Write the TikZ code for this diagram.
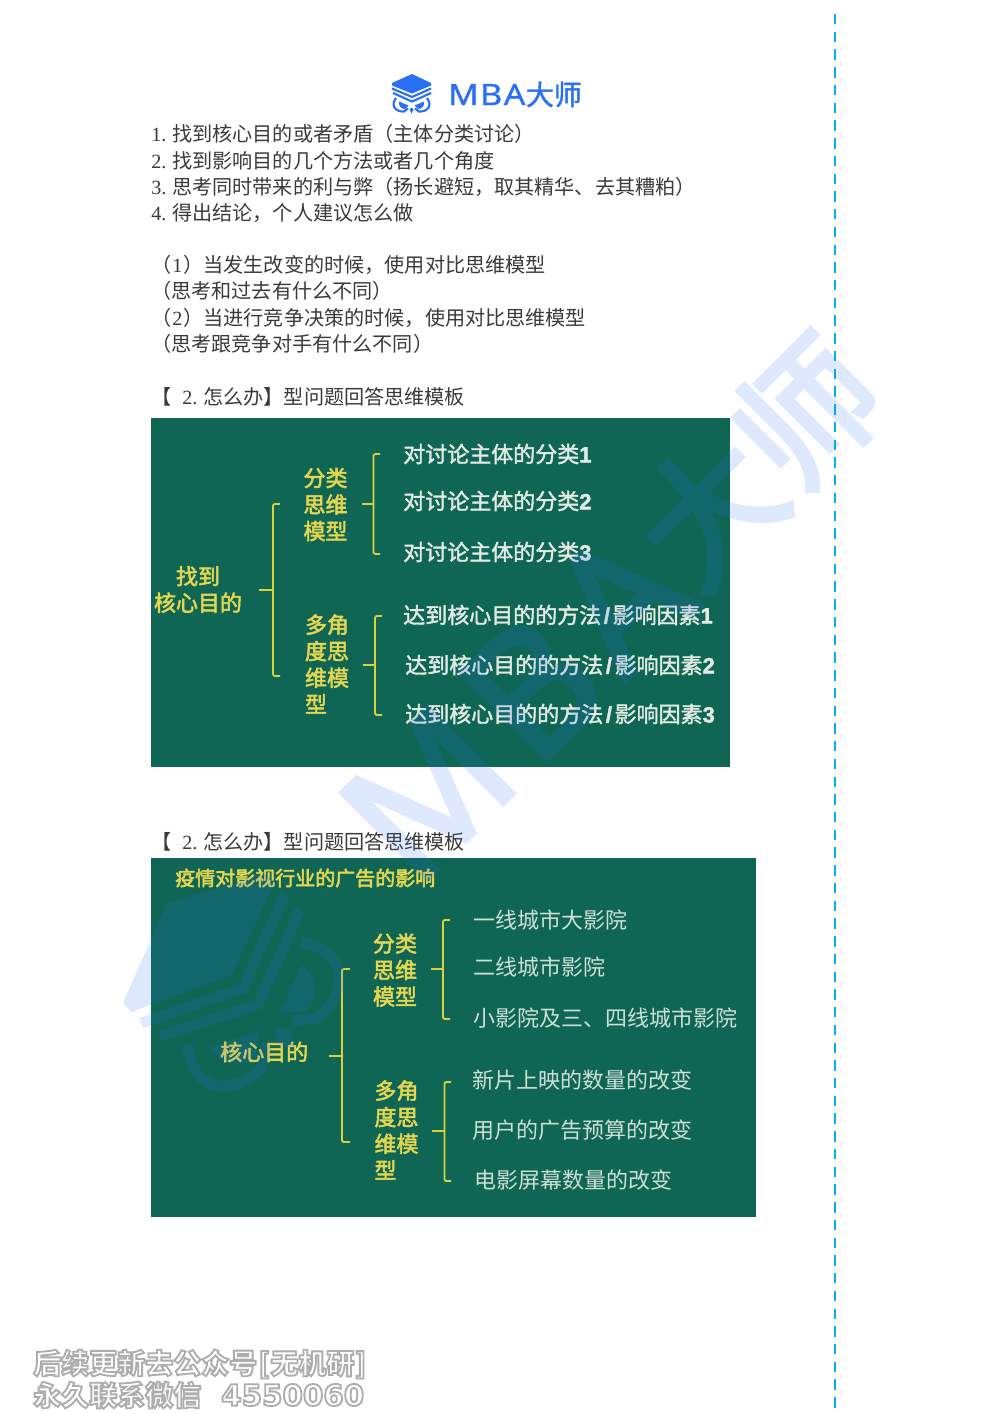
\documentclass[tikz,border=0pt]{standalone}
\usepackage{fontspec}
\usepackage{graphicx}
\setmainfont{Liberation Serif}
\newfontfamily\cjk{Noto Sans CJK SC}
\newfontfamily\latf{Liberation Serif}
\newfontfamily\lsans{Liberation Sans}
\newfontfamily\opsf{Open Sans}
\newfontfamily\dejab{DejaVu Sans Bold}
\definecolor{boardgreen}{RGB}{15,102,85}
\definecolor{brandblue}{RGB}{41,112,245}
\definecolor{dashblue}{RGB}{0,178,240}
\definecolor{chalkyellow}{RGB}{228,214,80}
\definecolor{brackyellow}{RGB}{216,210,60}
\definecolor{chalkwhite}{RGB}{226,234,226}
\definecolor{chalksoft}{RGB}{205,224,212}
\definecolor{bodyink}{RGB}{58,58,58}
\newcommand\lab[1]{\makebox[15.75pt][l]{\latf #1}}
\newcommand\pnum[1]{\makebox[9pt]{\latf #1}}
\newcommand\ld[1]{{\lsans\bfseries #1}}
\newcommand\slashbox{\makebox[8.5pt]{\lsans\bfseries /}}
\tikzset{
  txt/.style={anchor=west,inner sep=0pt,font=\fontsize{#1pt}{#1pt}\selectfont\cjk,text height=#1*.88pt,text depth=#1*.12pt},
  heavy/.style={execute at begin node={\special{pdf:code 2 Tr #1 w}},execute at end node={\special{pdf:code 0 Tr}}},
  body/.style={txt=15.1,text=bodyink},
  itemb/.style={txt=16.5,text=chalkwhite,heavy=0.3},
  items/.style={txt=16.5,text=chalksoft},
  heady/.style={txt=16.5,text=chalkyellow,heavy=0.4},
  stack/.style={inner sep=0pt,align=left,text=chalkyellow,font=\fontsize{16.5pt}{19.9pt}\selectfont\cjk,heavy=0.4},
  brk/.style={draw=brackyellow,line width=1.4pt},
  board/.style={fill=boardgreen,draw=none},
  foot/.style={anchor=west,inner sep=0pt,font=\fontsize{21pt}{21pt}\selectfont\cjk\bfseries,text height=18.5pt,text depth=2.5pt},
}
% bracket: prefix, stem x, vertical x, tip x, top y, mid y, bottom y
\newcommand\bracketat[7]{%
  \coordinate (#1s) at (#2,#6);
  \coordinate (#1m) at (#3,#6);
  \coordinate (#1t) at (#4,#5);
  \coordinate (#1b) at (#4,#7);
  \draw[brk] (#1s) -- (#1m);
  \draw[brk,rounded corners=1.5pt] (#1t) -| (#1m) |- (#1b);
}
% emblem, in page pixel coordinates of the header
\newcommand\mbaemblem{%
    \fill[brandblue] (412,74) -- (431,83) -- (431,85.5) -- (412,93.5) -- (392,85.5) -- (392,83) -- cycle;
    \draw[brandblue,line width=1.6pt] (392,88.5) -- (412,97) -- (431,88.5);
    \draw[brandblue,line width=1.6pt] (393,93) -- (412,101.5) -- (431,93);
    \draw[brandblue,line width=1.6pt] (396,98) .. controls (390,106) and (396,112) .. (404,111.5) -- (408,108.5);
    \draw[brandblue,line width=1.6pt] (427,98) .. controls (433,106) and (427,112) .. (419,111.5) -- (415,108.5);
    \fill[brandblue] (399,101.5) -- (408.5,105.5) -- (405,109) .. controls (401,109) and (398.5,106) .. cycle;
    \fill[brandblue] (424,101.5) -- (414.5,105.5) -- (418,109) .. controls (422,109) and (424.5,106) .. cycle;
    \fill[brandblue] (409.5,109.5) -- (411.5,107.5) -- (413.5,109.5) -- (411.5,113.5) -- cycle;
}
\begin{document}
\begin{tikzpicture}[x=.75pt,y=-.75pt]
\useasboundingbox (0,0) rectangle (1000,1414);
\fill[white] (0,0) rectangle (1000,1414);

% header logo
\mbaemblem
\node[anchor=base west,inner sep=0pt,text=brandblue,heavy=0.3] (topword) at (448,105)
  {\fontsize{22pt}{22pt}\selectfont\opsf\scalebox{1.15}[1]{M}\hspace{1.25pt}\scalebox{1.15}[1]{B}\hspace{1.25pt}\scalebox{1.15}[1]{A}\hspace{.5pt}\fontsize{21pt}{21pt}\selectfont\cjk 大师};

% body lines
\node[body] (l1) at (151,134) {\lab{1.}找到核心目的或者矛盾（主体分类讨论）};
\node[body] (l2) at (151,160.5) {\lab{2.}找到影响目的几个方法或者几个角度};
\node[body] (l3) at (151,187) {\lab{3.}思考同时带来的利与弊（扬长避短，取其精华、去其糟粕）};
\node[body] (l4) at (151,213) {\lab{4.}得出结论，个人建议怎么做};
\node[body] (l5) at (151,265) {（\pnum{1}）当发生改变的时候，使用对比思维模型};
\node[body] (l6) at (151,291) {（思考和过去有什么不同）};
\node[body] (l7) at (151,318) {（\pnum{2}）当进行竞争决策的时候，使用对比思维模型};
\node[body] (l8) at (151,344) {（思考跟竞争对手有什么不同）};
\node[body] (h1) at (151,396.5) {【\hspace{8.2pt}\lab{2.}怎么办】型问题回答思维模板};
\node[body] (h2) at (151,841.5) {【\hspace{8.2pt}\lab{2.}怎么办】型问题回答思维模板};

% first board
\path[board] (151,418) rectangle (730,767);
\node[stack,align=center] (a0) at (198,589.5) {找到\\核心目的};
\node[stack] (a1) at (325.5,504.5) {分类\\思维\\模型};
\node[stack] (a2) at (327,664) {多角\\度思\\维模\\型};
\node[itemb] (a11) at (403,454) {对讨论主体的分类\ld{1}};
\node[itemb] (a12) at (403,501) {对讨论主体的分类\ld{2}};
\node[itemb] (a13) at (403,552) {对讨论主体的分类\ld{3}};
\node[itemb] (a21) at (403,615) {达到核心目的的方法\slashbox 影响因素\ld{1}};
\node[itemb] (a22) at (405,665) {达到核心目的的方法\slashbox 影响因素\ld{2}};
\node[itemb] (a23) at (405,714) {达到核心目的的方法\slashbox 影响因素\ld{3}};
\bracketat{am}{259}{273}{280}{504}{590}{676}
\bracketat{aa}{362}{373.5}{380}{454}{504}{554}
\bracketat{ab}{363}{375}{382}{616}{665}{715}

% second board
\path[board] (151,858) rectangle (756,1217);
\node[heady,txt=15] (b9) at (175,878) {疫情对影视行业的广告的影响};
\node[heady] (b0) at (220,1052) {核心目的};
\node[stack] (b1) at (395,970) {分类\\思维\\模型};
\node[stack] (b2) at (396.5,1130) {多角\\度思\\维模\\型};
\node[items] (b11) at (473,920) {一线城市大影院};
\node[items] (b12) at (473,967) {二线城市影院};
\node[items] (b13) at (473,1018) {小影院及三、四线城市影院};
\node[items] (b21) at (472,1080) {新片上映的数量的改变};
\node[items] (b22) at (472,1130) {用户的广告预算的改变};
\node[items] (b23) at (474,1180) {电影屏幕数量的改变};
\bracketat{bm}{329}{342}{350}{969}{1056}{1142}
\bracketat{ba}{431}{443}{450}{920}{969}{1019}
\bracketat{bb}{432}{444.5}{451}{1082}{1131}{1181}

% dashed rule
\coordinate (ruleA) at (835,14);
\coordinate (ruleB) at (835,1414);
\draw[dashblue,line width=1.9pt,dash pattern=on 7.8pt off 5.5pt] (ruleA) -- (ruleB);

% page watermark
\begin{scope}[transform canvas={shift={(415,892)},rotate=45,scale=4.94,shift={(-448,-104.3)}}]
  \begin{scope}[opacity=.15,transparency group]
    \node[anchor=base west,inner sep=0pt,text=brandblue,heavy=0.7] (wmword) at (448,104.3)
      {\fontsize{26pt}{26pt}\selectfont\opsf M\hspace{2.3pt}B\hspace{2.3pt}A\hspace{.5pt}\fontsize{21pt}{21pt}\selectfont\cjk\raisebox{1.5pt}{大师}};
  \end{scope}
\end{scope}
\begin{scope}[transform canvas={shift={(228,975)},rotate=42,scale=4.95,shift={(-411.5,-93)}}]
  \begin{scope}[opacity=.15,transparency group]
    \mbaemblem
  \end{scope}
\end{scope}

% footer
\node[foot] (f1) at (33,1363) {\special{pdf:code 2 Tr 1.4 w 0.68 G 1 g}后续更新去公众号\hspace{1pt}[\hspace{.5pt}无机研\hspace{.5pt}]\special{pdf:code 0 Tr 0 g}};
\node[foot] (f2) at (33,1395) {\special{pdf:code 2 Tr 1.4 w 0.68 G 1 g}永久联系微信\hspace{15pt}{\fontsize{22pt}{22pt}\selectfont\dejab 4550060}\special{pdf:code 0 Tr 0 g}};
\end{tikzpicture}
\end{document}
